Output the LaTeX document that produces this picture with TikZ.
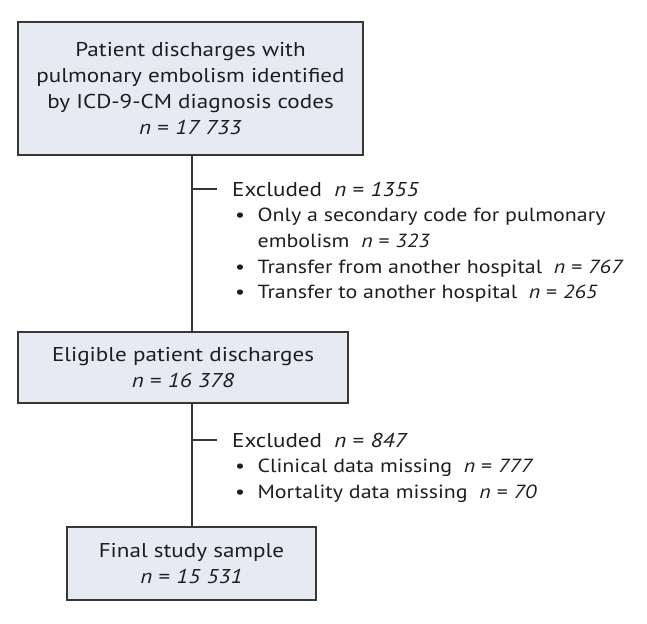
\documentclass[tikz,border=0pt]{standalone}
\usepackage{fontspec}
\setmainfont[FakeStretch=1.155]{PT Sans}
\usepackage{xcolor}
\usetikzlibrary{positioning}
\definecolor{boxfill}{RGB}{229,234,243}
\definecolor{boxline}{RGB}{55,55,55}
\definecolor{inktext}{RGB}{30,30,30}
\newcommand{\nval}[1]{\textit{n} = \textit{#1}}
\newcommand{\exclhead}[1]{\multicolumn{2}{@{}l@{}}{\fontsize{20}{25.7}\selectfont Excluded\ \ \nval{#1}}}

\begin{document}
\begin{tikzpicture}[x=1pt, y=-1pt,
    flowbox/.style={draw=boxline, line width=1.5pt, fill=boxfill, align=center, inner sep=0pt,
      text=inktext, font=\fontsize{20}{26}\selectfont},
    exclnote/.style={anchor=base west, inner sep=0pt, text=inktext, font=\fontsize{19}{25.7}\selectfont},
    link/.style={draw=boxline, line width=1.5pt}]
    \useasboundingbox (0,0) rectangle (647,623);

    % boxes of the flow
    \node[flowbox, minimum width=345, minimum height=133] (all) at (190.5,88.5)
        {Patient discharges with\\pulmonary embolism identified\\by ICD-9-CM diagnosis codes\\\nval{17 733}};
    \node[flowbox, minimum width=330, minimum height=71] (eligible) at (183,367.5)
        {Eligible patient discharges\\\nval{16 378}};
    \node[flowbox, minimum width=249, minimum height=73] (final) at (191.5,563.5)
        {Final study sample\\\nval{15 531}};

    % exclusions
    \node[exclnote] (excl1) at (232,196) {\begin{tabular}[t]{@{\hspace{3pt}}l@{\hspace{12.5pt}}l@{}}
        \exclhead{1355}\\
        \textbullet & Only a secondary code for pulmonary\\
                    & embolism\ \ \nval{323}\\
        \textbullet & Transfer from another hospital\ \ \nval{767}\\
        \textbullet & Transfer to another hospital\ \ \nval{265}
      \end{tabular}};
    \node[exclnote] (excl2) at (232,447) {\begin{tabular}[t]{@{\hspace{3pt}}l@{\hspace{12.5pt}}l@{}}
        \exclhead{847}\\
        \textbullet & Clinical data missing\ \ \nval{777}\\
        \textbullet & Mortality data missing\ \ \nval{70}
      \end{tabular}};

    \coordinate (trunk) at (192,0);
    \coordinate (tick1) at ([yshift=7pt]excl1.base west);
    \coordinate (tick2) at ([yshift=7pt]excl2.base west);

    % connectors
    \draw[link] (all.south -| trunk) -- (eligible.north -| trunk);
    \draw[link] (eligible.south -| trunk) -- (final.north -| trunk);
    \draw[link] (tick1 -| trunk) -- ([xshift=-15pt]tick1);
    \draw[link] (tick2 -| trunk) -- ([xshift=-15pt]tick2);
\end{tikzpicture}
\end{document}
